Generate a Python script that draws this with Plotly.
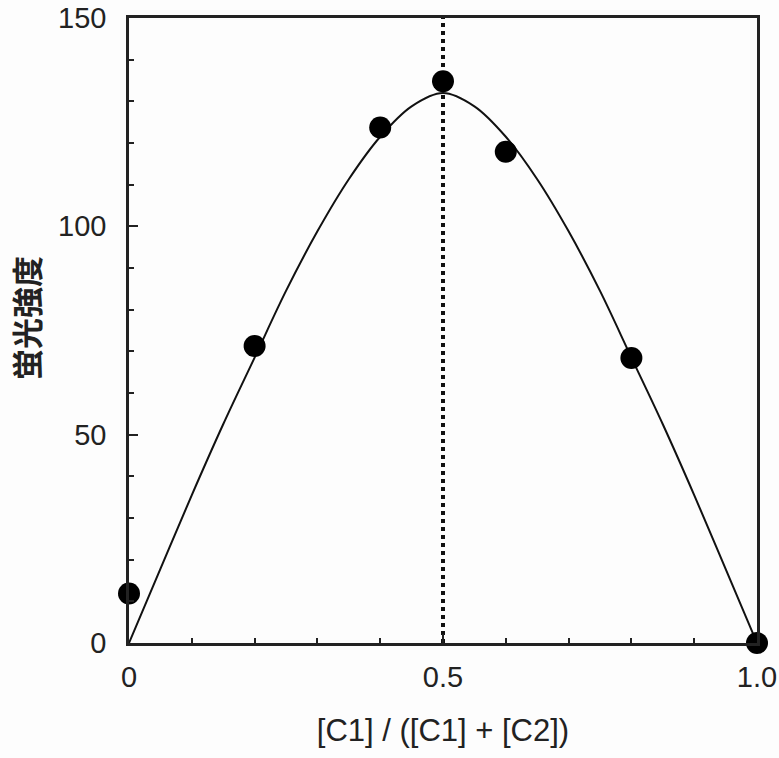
import plotly.graph_objects as go

# Measured fluorescence at each mole fraction
mole_fraction = [0.0, 0.2, 0.4, 0.5, 0.6, 0.8, 1.0]
intensity = [11.9, 71.3, 123.7, 134.8, 117.9, 68.4, 0.0]

# Fitted curve, sampled along the mole-fraction axis
fit_x = [0.0, 0.05, 0.1, 0.15, 0.2, 0.25, 0.3, 0.35, 0.4, 0.45, 0.5,
         0.55, 0.6, 0.65, 0.7, 0.75, 0.8, 0.85, 0.9, 0.95, 1.0]
fit_y = [0.0, 17.8, 35.5, 52.5, 68.5, 84.5, 98.8, 111.3, 121.5, 128.8, 132.0,
         128.8, 121.5, 111.3, 98.8, 84.5, 68.5, 52.5, 35.5, 17.8, 0.0]

# Stoichiometry marker (maximum of the Job plot)
peak_x = 0.5
y_range = [0, 150]

x_title = "[C1] / ([C1] + [C2])"
y_title = "蛍光強度"

fig = go.Figure()

fig.add_trace(go.Scatter(
    x=[peak_x, peak_x], y=y_range, mode="lines",
    line=dict(color="#111111", width=4, dash="dot"),
    hoverinfo="skip", showlegend=False,
))

fig.add_trace(go.Scatter(
    x=fit_x, y=fit_y, mode="lines", line_shape="spline",
    line=dict(color="#111111", width=2),
    showlegend=False,
))

fig.add_trace(go.Scatter(
    x=mole_fraction, y=intensity, mode="markers",
    marker=dict(color="#000000", size=22),
    cliponaxis=False, showlegend=False,
))

tick_font = dict(family="Liberation Sans, Arial, sans-serif", size=29, color="#222222")

fig.update_layout(
    width=779, height=758,
    margin=dict(l=129, r=22, t=18, b=115, autoexpand=False),
    paper_bgcolor="#fdfdfd", plot_bgcolor="#fdfdfd",
    xaxis=dict(
        range=[0, 1], tickvals=[0, 0.5, 1.0], ticktext=["0", "0.5", "1.0"],
        ticks="inside", ticklen=9, tickwidth=2, tickcolor="#222222",
        minor=dict(ticks="inside", dtick=0.1, tick0=0, ticklen=5, tickwidth=2, tickcolor="#222222"),
        showline=True, linecolor="#222222", linewidth=2.5, mirror=True,
        showgrid=False, zeroline=False, automargin=False,
        tickfont=tick_font, ticklabelstandoff=6,
        title=dict(text=x_title, font=dict(family="Liberation Sans, Arial, sans-serif", size=31, color="#222222"),
                   standoff=28),
    ),
    yaxis=dict(
        range=y_range, tickvals=[0, 50, 100, 150],
        ticks="inside", ticklen=9, tickwidth=2, tickcolor="#222222",
        minor=dict(ticks="inside", dtick=10, tick0=0, ticklen=5, tickwidth=2, tickcolor="#222222"),
        showline=True, linecolor="#222222", linewidth=2.5, mirror=True,
        showgrid=False, zeroline=False, automargin=False,
        tickfont=tick_font, ticklabelstandoff=14,
    ),
    annotations=[dict(
        text=y_title, textangle=-90,
        xref="paper", x=0, xanchor="center", xshift=-104,
        yref="paper", y=0.52, yanchor="middle",
        showarrow=False,
        font=dict(family="Noto Sans CJK JP", size=31, color="#222222", weight="bold"),
    )],
)

fig.write_html("out.html")
